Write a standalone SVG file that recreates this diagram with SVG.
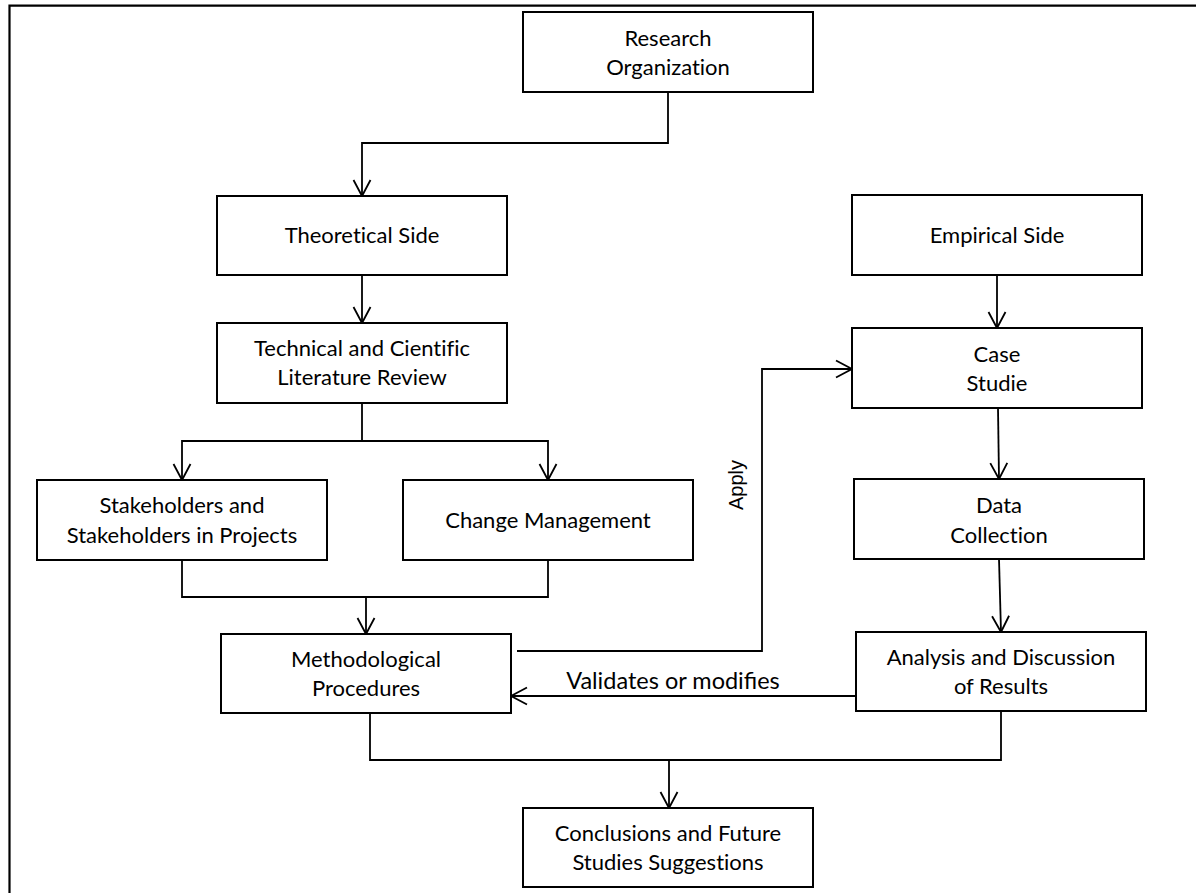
<svg xmlns="http://www.w3.org/2000/svg" width="1196" height="893" viewBox="0 0 1196 893">
<defs>
<style>
.box{fill:#fff;stroke:#000;stroke-width:2}
.t{font-family:Lato,"Liberation Sans",sans-serif;font-size:22px;fill:#000;text-anchor:middle;font-variant-ligatures:none}
.c{fill:none;stroke:#000;stroke-width:1.8}
.ar{marker-end:url(#ah)}
</style>
<marker id="ah" markerUnits="userSpaceOnUse" markerWidth="24" markerHeight="24" viewBox="-20 -12 24 24" refX="0" refY="0" orient="auto">
<path d="M-16,-8.5 L0,0 L-16,8.5" fill="none" stroke="#000" stroke-width="1.8"/>
</marker>
</defs>
<rect width="1196" height="893" fill="#fff"/>
<path d="M9.5,900 V5.7 H1200" fill="none" stroke="#000" stroke-width="2.2"/>

<g id="connectors">
<path class="c ar" d="M668,92 V143 H362 V196"/>
<path class="c ar" d="M362,275 V323"/>
<path class="c ar" d="M362,403 V441 H182 V480"/>
<path class="c ar" d="M362,441 H548 V480"/>
<path class="c" d="M182,560 V597 H548 V560"/>
<path class="c ar" d="M366,597 V634"/>
<path class="c ar" d="M517,651 H762 V369 H852"/>
<path class="c ar" d="M997,275 V328"/>
<path class="c ar" d="M998,408 L999,479"/>
<path class="c ar" d="M999,559 L1001,632"/>
<path class="c ar" d="M856,696 H511"/>
<path class="c" d="M370,713 V760 H1001 V711"/>
<path class="c ar" d="M669,760 V808"/>
<text x="673" y="689" style="font-family:Lato,'Liberation Sans',sans-serif;font-size:23.5px;text-anchor:middle">Validates or modifies</text>
<text transform="translate(743,485) rotate(-90)" style="font-family:'Liberation Sans',Arial,sans-serif;font-size:20px;text-anchor:middle">Apply</text>
</g>

<g id="research">
<rect class="box" x="523" y="12" width="290" height="80"/>
<text class="t" x="668" y="46">Research</text>
<text class="t" x="668" y="75">Organization</text>
</g>
<g id="theoretical">
<rect class="box" x="217" y="196" width="290" height="79"/>
<text class="t" x="362" y="243">Theoretical Side</text>
</g>
<g id="technical">
<rect class="box" x="217" y="323" width="290" height="80"/>
<text class="t" x="362" y="356">Technical and Cientific</text>
<text class="t" x="362" y="385">Literature Review</text>
</g>
<g id="stakeholders">
<rect class="box" x="37" y="480" width="290" height="80"/>
<text class="t" x="182" y="513">Stakeholders and</text>
<text class="t" x="182" y="543">Stakeholders in Projects</text>
</g>
<g id="change">
<rect class="box" x="403" y="480" width="290" height="80"/>
<text class="t" x="548" y="528">Change Management</text>
</g>
<g id="methodological">
<rect class="box" x="221" y="634" width="290" height="79"/>
<text class="t" x="366" y="667">Methodological</text>
<text class="t" x="366" y="696">Procedures</text>
</g>
<g id="empirical">
<rect class="box" x="852" y="195" width="290" height="80"/>
<text class="t" x="997" y="243">Empirical Side</text>
</g>
<g id="case">
<rect class="box" x="852" y="328" width="290" height="80"/>
<text class="t" x="997" y="362">Case</text>
<text class="t" x="997" y="391">Studie</text>
</g>
<g id="data">
<rect class="box" x="854" y="479" width="290" height="80"/>
<text class="t" x="999" y="513">Data</text>
<text class="t" x="999" y="543">Collection</text>
</g>
<g id="analysis">
<rect class="box" x="856" y="632" width="290" height="79"/>
<text class="t" x="1001" y="665">Analysis and Discussion</text>
<text class="t" x="1001" y="694">of Results</text>
</g>
<g id="conclusions">
<rect class="box" x="523" y="808" width="290" height="79"/>
<text class="t" x="668" y="841">Conclusions and Future</text>
<text class="t" x="668" y="870">Studies Suggestions</text>
</g>
</svg>
